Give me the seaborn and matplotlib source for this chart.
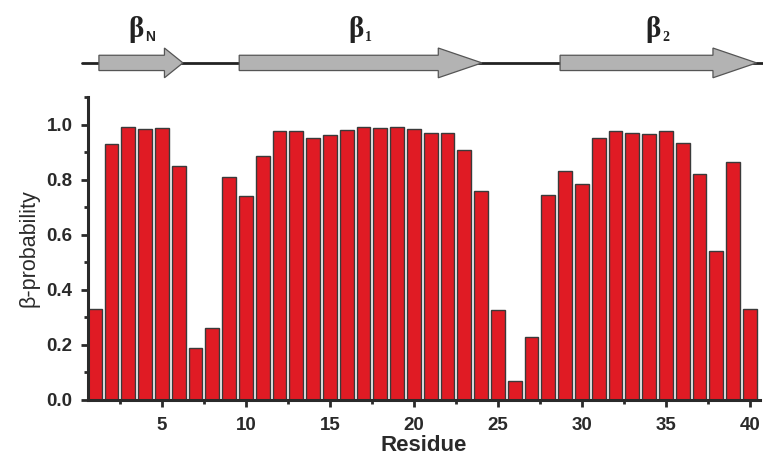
import numpy as np
import pandas as pd
import matplotlib
matplotlib.use("Agg")
import matplotlib.pyplot as plt
from matplotlib.patches import FancyArrow
from matplotlib.ticker import MultipleLocator
import seaborn as sns

# beta probability per residue
residues = list(range(1, 41))
beta_prob = [0.33, 0.93, 0.99, 0.985, 0.987, 0.85, 0.19, 0.26, 0.81, 0.74,
             0.885, 0.975, 0.978, 0.952, 0.961, 0.98, 0.99, 0.988, 0.99, 0.983,
             0.971, 0.968, 0.909, 0.758, 0.325, 0.07, 0.23, 0.743, 0.832, 0.783,
             0.951, 0.978, 0.971, 0.966, 0.975, 0.934, 0.819, 0.542, 0.864, 0.33]

# secondary structure strands (residue start, end) and labels
strand_names = ["N", "1", "2"]
strand_start = [1.25, 9.6, 28.7]
strand_end = [6.25, 24.05, 40.4]

df = pd.DataFrame({"Residue": residues, "prob": beta_prob})

sns.set_style("white")
plt.rcParams["font.family"] = ["Liberation Sans", "DejaVu Sans"]
plt.rcParams["font.weight"] = "bold"

fig = plt.figure(figsize=(7.63, 4.55), dpi=100)
ax = fig.add_axes([88 / 763, 55 / 455, 672 / 763, 303 / 455])
ax_top = fig.add_axes([88 / 763, 370 / 455, 672 / 763, 85 / 455])

sns.barplot(data=df, x="Residue", y="prob", native_scale=True, width=0.82,
            color="#e01b24", edgecolor="#3a3a3a", linewidth=1.0,
            saturation=1, ax=ax)

ax.set_xlim(0.6, 40.6)
ax.set_ylim(0, 1.1)
ax.xaxis.set_major_locator(MultipleLocator(5))
ax.xaxis.set_minor_locator(MultipleLocator(2.5))
ax.yaxis.set_major_locator(MultipleLocator(0.2))
ax.yaxis.set_minor_locator(MultipleLocator(0.1))
ax.yaxis.set_major_formatter(matplotlib.ticker.FormatStrFormatter("%.1f"))
sns.despine(ax=ax)
for s in ["left", "bottom"]:
    ax.spines[s].set_linewidth(2.2)
    ax.spines[s].set_color("#2a2a2a")
ax.tick_params(which="major", direction="out", length=5, width=2, color="#2a2a2a",
               labelsize=13.5, labelcolor="#2a2a2a", left=True, bottom=True)
ax.tick_params(axis="x", which="major", pad=7)
ax.tick_params(axis="y", which="major", pad=6)
ax.tick_params(which="minor", direction="out", length=3, width=2, color="#2a2a2a",
               left=True, bottom=True)
for lab in ax.get_xticklabels() + ax.get_yticklabels():
    lab.set_fontweight("bold")
ax.set_xlabel("Residue", fontsize=16, fontweight="bold", color="#2a2a2a", labelpad=1)
ax.set_ylabel("β-probability", fontsize=15.5, fontweight="normal", color="#2a2a2a",
              labelpad=5)

# topology cartoon
ax_top.set_xlim(0.6, 40.6)
ax_top.set_ylim(0, 1)
ax_top.axis("off")
ax_top.plot([0.24, 41.0], [0.26, 0.26], color="#222222", lw=2, clip_on=False,
            zorder=1)
for name, a, b in zip(strand_names, strand_start, strand_end):
    head_len = 1.1 if name == "N" else 2.6
    arr = FancyArrow(a, 0.26, b - a, 0, width=0.18, head_width=0.35,
                     head_length=head_len, length_includes_head=True,
                     facecolor="#b3b3b3", edgecolor="#555555", lw=0.9,
                     clip_on=False, zorder=2)
    ax_top.add_patch(arr)
    mid = (a + b) / 2 - 0.3
    ax_top.text(mid, 0.565, "β", fontsize=21, fontweight="bold",
                family="Liberation Serif", color="#222222", ha="center",
                va="baseline")
    ax_top.text(mid + 0.55, 0.52, name, fontsize=10, fontweight="bold",
                family="Liberation Sans" if name == "N" else "Liberation Serif",
                color="#222222", ha="left", va="baseline")

fig.savefig("out.png", dpi=100)
